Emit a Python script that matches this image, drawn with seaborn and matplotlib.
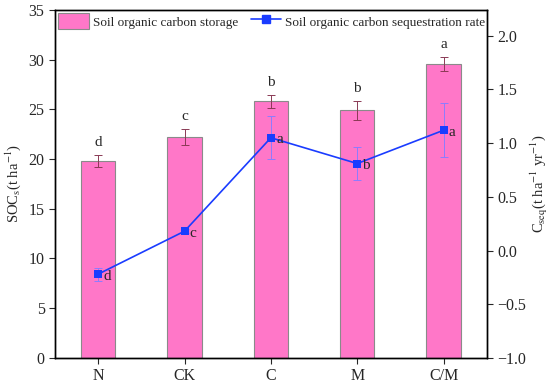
import pandas as pd
import matplotlib.pyplot as plt
import seaborn as sns

# === Data ===
treatments = ["N", "CK", "C", "M", "C/M"]
soc_storage = [19.8, 22.2, 25.8, 24.9, 29.6]
soc_storage_err = [0.6, 0.8, 0.65, 0.95, 0.7]
storage_letters = ["d", "c", "b", "b", "a"]
seq_rate = [-0.22, 0.18, 1.05, 0.81, 1.12]
seq_rate_err = [0.06, 0.02, 0.20, 0.15, 0.25]
rate_letters = ["d", "c", "a", "b", "a"]

df = pd.DataFrame({"treatment": treatments, "storage": soc_storage, "rate": seq_rate})

# === Style ===
sns.set_style("ticks")
plt.rcParams["font.family"] = ["Liberation Serif", "DejaVu Serif"]
plt.rcParams["mathtext.fontset"] = "stix"
plt.rcParams["font.size"] = 10
plt.rcParams["xtick.direction"] = "out"
plt.rcParams["ytick.direction"] = "out"

bar_color = "#ff77c8"
line_color = "#1a3cff"
tick_fs = 11.5

fig = plt.figure(figsize=(5.5, 3.84), dpi=100)
ax = fig.add_axes([0.1, 0.068, 0.785, 0.906])

sns.barplot(data=df, x="treatment", y="storage", color=bar_color, saturation=1,
            width=0.4, edgecolor="#8a8a8a", linewidth=0.8, ax=ax, errorbar=None)
ax.errorbar(range(len(treatments)), soc_storage, yerr=soc_storage_err, fmt="none",
            ecolor="#8a3a55", elinewidth=0.7, capsize=3, capthick=0.7)
for i, (v, e, t) in enumerate(zip(soc_storage, soc_storage_err, storage_letters)):
    ax.text(i, v + e + 0.6, t, ha="center", va="bottom", fontsize=11)

ax.set_xlim(-0.5, 4.5)
ax.set_ylim(0, 35)
ax.set_yticks(range(0, 36, 5))
ax.set_xlabel("")
ax.set_ylabel(r"SOC$_\mathrm{s}$(t ha$^{-1}$)", fontsize=10.5, labelpad=4)
ax.tick_params(axis="both", labelsize=tick_fs, width=0.8, length=4)

ax2 = ax.twinx()
ax2.errorbar(range(len(treatments)), seq_rate, yerr=seq_rate_err, fmt="none",
             ecolor="#8c7cff", elinewidth=0.7, capsize=3, capthick=0.7)
sns.lineplot(x=list(range(len(treatments))), y=seq_rate, color=line_color, marker="s",
             markersize=6, markeredgewidth=0, linewidth=1.2, ax=ax2)
for i, (v, t) in enumerate(zip(seq_rate, rate_letters)):
    ax2.text(i + 0.06, v - 0.02, t, ha="left", va="center", fontsize=11)
ax2.set_ylim(-1.0, 2.24)
ax2.set_yticks([-1.0, -0.5, 0.0, 0.5, 1.0, 1.5, 2.0])
ax2.set_yticklabels(["\u22121.0", "\u22120.5", "0.0", "0.5", "1.0", "1.5", "2.0"])
ax2.set_ylabel(r"C$_\mathrm{seq}$(t ha$^{-1}$ yr$^{-1}$)", fontsize=10.5, labelpad=2)
ax2.tick_params(axis="y", labelsize=tick_fs, width=0.8, length=4)

for a in (ax, ax2):
    for s in a.spines.values():
        s.set_visible(True)
        s.set_linewidth(1.0)
        s.set_color("black")

bar_handle = plt.Rectangle((0, 0), 1, 1, facecolor=bar_color, edgecolor="#8a8a8a", linewidth=0.8)
line_handle = plt.Line2D([], [], color=line_color, marker="s", markersize=6, linewidth=1.2)
ax2.legend([bar_handle, line_handle],
           ["Soil organic carbon storage", "Soil organic carbon sequestration rate"],
           loc="upper left", bbox_to_anchor=(0.0, 1.0), ncol=2, frameon=False,
           fontsize=9.5, handlelength=2.3, handleheight=1.5, columnspacing=1.0,
           handletextpad=0.3, borderaxespad=0.05, borderpad=0.2)

plt.savefig("out.png", dpi=100)
